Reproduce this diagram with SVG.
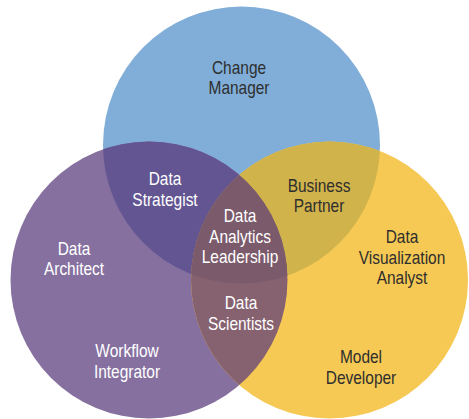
<svg xmlns="http://www.w3.org/2000/svg" width="469" height="419" viewBox="0 0 469 419">
<style>
.t{font-family:"Liberation Sans",Arial,sans-serif;font-size:18px;text-anchor:middle}
.d{fill:#2e2e2e}
.w{fill:#ffffff}
</style>
<defs>
<clipPath id="cb"><circle cx="241.5" cy="145" r="138.5"/></clipPath>
<clipPath id="cp"><circle cx="149" cy="280" r="138.5"/></clipPath>
</defs>
<rect width="469" height="419" fill="#ffffff"/>
<g id="circle-blue"><circle cx="241.5" cy="145" r="138.5" fill="#81aed8"/></g>
<g id="circle-purple"><circle cx="149" cy="280" r="138.5" fill="#86709f"/></g>
<g id="circle-yellow"><circle cx="329.5" cy="280" r="138.5" fill="#f6c955"/></g>
<g id="overlaps">
<circle cx="149" cy="280" r="138.5" fill="#625592" clip-path="url(#cb)"/>
<circle cx="329.5" cy="280" r="138.5" fill="#d1b34b" clip-path="url(#cb)"/>
<circle cx="329.5" cy="280" r="138.5" fill="#866271" clip-path="url(#cp)"/>
<g clip-path="url(#cb)"><circle cx="329.5" cy="280" r="138.5" fill="#7b5a6b" clip-path="url(#cp)"/></g>
</g>
<g id="label-change-manager" class="t d">
<text transform="translate(239,73.5) scale(0.86,1)">Change</text>
<text transform="translate(239,94) scale(0.86,1)">Manager</text>
</g>
<g id="label-data-strategist" class="t w">
<text transform="translate(165,185) scale(0.86,1)">Data</text>
<text transform="translate(165,205.5) scale(0.86,1)">Strategist</text>
</g>
<g id="label-business-partner" class="t d">
<text transform="translate(319,191.5) scale(0.86,1)">Business</text>
<text transform="translate(319,212) scale(0.86,1)">Partner</text>
</g>
<g id="label-data-analytics-leadership" class="t w">
<text transform="translate(240,222) scale(0.86,1)">Data</text>
<text transform="translate(240,242.5) scale(0.86,1)">Analytics</text>
<text transform="translate(240,263) scale(0.86,1)">Leadership</text>
</g>
<g id="label-data-architect" class="t w">
<text transform="translate(74,255) scale(0.86,1)">Data</text>
<text transform="translate(74,275) scale(0.86,1)">Architect</text>
</g>
<g id="label-data-visualization-analyst" class="t d">
<text transform="translate(402,243) scale(0.86,1)">Data</text>
<text transform="translate(402,263.5) scale(0.86,1)">Visualization</text>
<text transform="translate(402,284) scale(0.86,1)">Analyst</text>
</g>
<g id="label-data-scientists" class="t w">
<text transform="translate(241,309) scale(0.86,1)">Data</text>
<text transform="translate(241,329.5) scale(0.86,1)">Scientists</text>
</g>
<g id="label-workflow-integrator" class="t w">
<text transform="translate(127,357) scale(0.86,1)">Workflow</text>
<text transform="translate(127,377.5) scale(0.86,1)">Integrator</text>
</g>
<g id="label-model-developer" class="t d">
<text transform="translate(361,363) scale(0.86,1)">Model</text>
<text transform="translate(361,383.5) scale(0.86,1)">Developer</text>
</g>
</svg>
